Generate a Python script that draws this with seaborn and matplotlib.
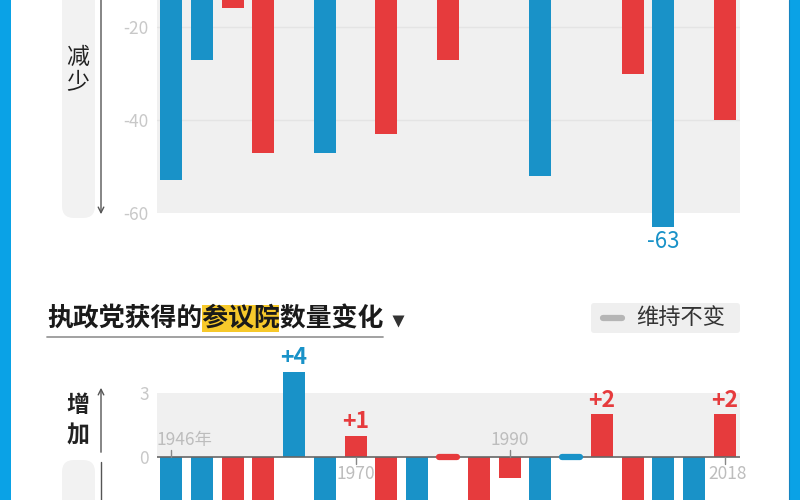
#%% imports
import matplotlib
matplotlib.use('Agg')
import pandas as pd
import matplotlib.pyplot as plt
from matplotlib.patches import FancyBboxPatch, Rectangle
import seaborn as sns

#%% data (US midterms, president's party)
years = [1946, 1950, 1954, 1958, 1962, 1966, 1970, 1974, 1978, 1982,
         1986, 1990, 1994, 1998, 2002, 2006, 2010, 2014, 2018]
party = ['D', 'D', 'R', 'R', 'D', 'D', 'R', 'R', 'D', 'R',
         'R', 'R', 'D', 'D', 'R', 'R', 'D', 'D', 'R']
house = [-53, -27, -16, -47, -4, -47, -12, -43, -12, -27,
         -5, -8, -52, 5, 8, -30, -63, -13, -40]
senate = [-10, -5, -2, -13, 4, -3, 1, -5, -3, 0,
          -8, -1, -8, 0, 2, -6, -6, -9, 2]

year_tick_idx = [0, 6, 11, 18]
year_tick_text = ['1946年', '1970', '1990', '2018']
year_tick_side = [1, -1, 1, -1]

blue = '#1992c8'
red = '#e63b3d'
palette = {'D': blue, 'R': red}

df = pd.DataFrame({'idx': range(len(years)), 'year': years, 'party': party,
                   'house': house, 'senate': senate})

#%% figure
sns.set_theme(style='white')
plt.rcParams['font.family'] = ['Noto Sans CJK SC', 'DejaVu Sans']

fig = plt.figure(figsize=(8, 5), dpi=100)

# overlay in pixel coordinates for the page decorations
deco = fig.add_axes([0, 0, 1, 1], zorder=0)
deco.set_xlim(0, 800)
deco.set_ylim(500, 0)
deco.axis('off')

# blue page borders
deco.add_patch(Rectangle((0, 0), 11, 500, color='#0aa2e6', lw=0))
deco.add_patch(Rectangle((789, 0), 11, 500, color='#0aa2e6', lw=0))
deco.plot([789, 789], [0, 500], color='#1784c0', lw=0.8)

# gray pills behind the side labels
deco.add_patch(FancyBboxPatch((62, -40), 33, 258, boxstyle='round,pad=0,rounding_size=12',
                              fc='#f2f2f2', ec='none'))
deco.add_patch(FancyBboxPatch((62, 460), 33, 80, boxstyle='round,pad=0,rounding_size=12',
                              fc='#f2f2f2', ec='none'))
deco.text(78, 57, '减', fontsize=16.5, ha='center', va='center', color='#222', weight='medium')
deco.text(78, 83, '少', fontsize=16.5, ha='center', va='center', color='#222', weight='medium')
deco.text(78, 406, '增', fontsize=16.5, ha='center', va='center', color='#222', weight='bold')
deco.text(78, 436, '加', fontsize=16.5, ha='center', va='center', color='#222', weight='bold')

# arrows
deco.annotate('', xy=(101, 217), xytext=(101, -5),
              arrowprops=dict(arrowstyle='->', color='#555', lw=1, mutation_scale=10))
deco.annotate('', xy=(101, 385), xytext=(101, 455),
              arrowprops=dict(arrowstyle='->', color='#555', lw=1, mutation_scale=10))
deco.plot([101, 101], [462, 505], color='#555', lw=1)

# title with highlight
char_w = 25.8
deco.add_patch(Rectangle((47 + 6 * char_w, 305), 3 * char_w, 27, color='#f7c92b', lw=0))
deco.text(47, 319, '执政党获得的参议院数量变化', fontsize=18.6, ha='left', va='center',
          color='#1a1a1a', weight='bold')
deco.plot([47, 383], [337, 337], color='#9a9a9a', lw=1.3)
deco.plot([398], [321], marker='v', ms=8, color='#333', mec='none')

# legend box
deco.add_patch(FancyBboxPatch((591, 303), 149, 30, boxstyle='round,pad=0,rounding_size=3',
                              fc='#efefef', ec='none'))
deco.plot([603, 622], [318, 318], color='#b5b5b5', lw=4.5, solid_capstyle='round')
deco.text(636, 318, '维持不变', fontsize=16, ha='left', va='center', color='#333')

#%% top chart: house
ppu_top = (213 - 27) / 40.0
top_hi = -20 + 27 / ppu_top
top_lo = -68
h_px = (top_hi - top_lo) * ppu_top
ax1 = fig.add_axes([157 / 800, 1 - h_px / 500, 583 / 800, h_px / 500], zorder=1)
ax1.set_facecolor('none')
ax1.axhspan(-60, 0, color='#f0f0f0', zorder=0, lw=0)
for g in [-20, -40]:
    ax1.axhline(g, color='#e4e4e4', lw=1, zorder=0.5)
sns.barplot(data=df, x='idx', y='house', hue='party', palette=palette, dodge=False,
            width=0.715, legend=False, linewidth=0, saturation=1, ax=ax1, zorder=2)
ax1.set_xlim(-0.455, 18.49)
ax1.set_ylim(top_lo, top_hi)
ax1.set_yticks([-20, -40, -60])
ax1.set_yticklabels(['-20', '-40', '-60'], fontsize=12.5, color='#c8c8c8')
ax1.tick_params(axis='y', length=0, pad=6)
ax1.set_xticks([])
ax1.set_xlabel('')
ax1.set_ylabel('')
sns.despine(ax=ax1, left=True, bottom=True)

i_min = df['house'].idxmin()
ax1.text(i_min, house[i_min] - 0.6, str(house[i_min]), ha='center', va='top',
         fontsize=16, color=blue, weight='medium')

#%% bottom chart: senate
ppu_bot = (457 - 393) / 3.0
bot_hi = (457 - 345) / ppu_bot
bot_lo = -(500 - 457) / ppu_bot
ax2 = fig.add_axes([157 / 800, 0, 583 / 800, 155 / 500], zorder=1)
ax2.set_facecolor('none')
ax2.axhspan(0, 3, color='#f0f0f0', zorder=0, lw=0)
sns.barplot(data=df, x='idx', y='senate', hue='party', palette=palette, dodge=False,
            width=0.715, legend=False, linewidth=0, saturation=1, ax=ax2, zorder=2)
ax2.axhline(0, color='#666', lw=1.2, zorder=3)

# unchanged markers and gain labels
for i, v in enumerate(senate):
    if v == 0:
        ax2.plot([i - 0.28, i + 0.28], [0, 0], color=palette[party[i]], lw=4.5,
                 solid_capstyle='round', zorder=4)
    elif v > 0:
        ax2.text(i, v + 0.12, f'+{v}', ha='center', va='bottom', fontsize=16.5,
                 color=palette[party[i]], weight='bold')

# year markers
for i, t, s in zip(year_tick_idx, year_tick_text, year_tick_side):
    ax2.plot([i, i], [0, 0.35 * s], color='#888', lw=1, zorder=4)
    if t.endswith('年'):
        ax2.text(i - 0.47, 0.8, t, ha='left', va='center', fontsize=12.5,
                 color='#bdbdbd', zorder=5)
    else:
        xx = i + 0.1 if i == year_tick_idx[-1] else i
        ax2.text(xx, 0.8 * s, t, ha='center', va='center', fontsize=12.5,
                 color='#bdbdbd', zorder=5)

ax2.set_xlim(-0.455, 18.49)
ax2.set_ylim(bot_lo, bot_hi)
ax2.set_yticks([3, 0])
ax2.set_yticklabels(['3', '0'], fontsize=12.5, color='#c8c8c8')
ax2.tick_params(axis='y', length=0, pad=6)
ax2.set_xticks([])
ax2.set_xlabel('')
ax2.set_ylabel('')
sns.despine(ax=ax2, left=True, bottom=True)

fig.savefig('out.png', dpi=100)
